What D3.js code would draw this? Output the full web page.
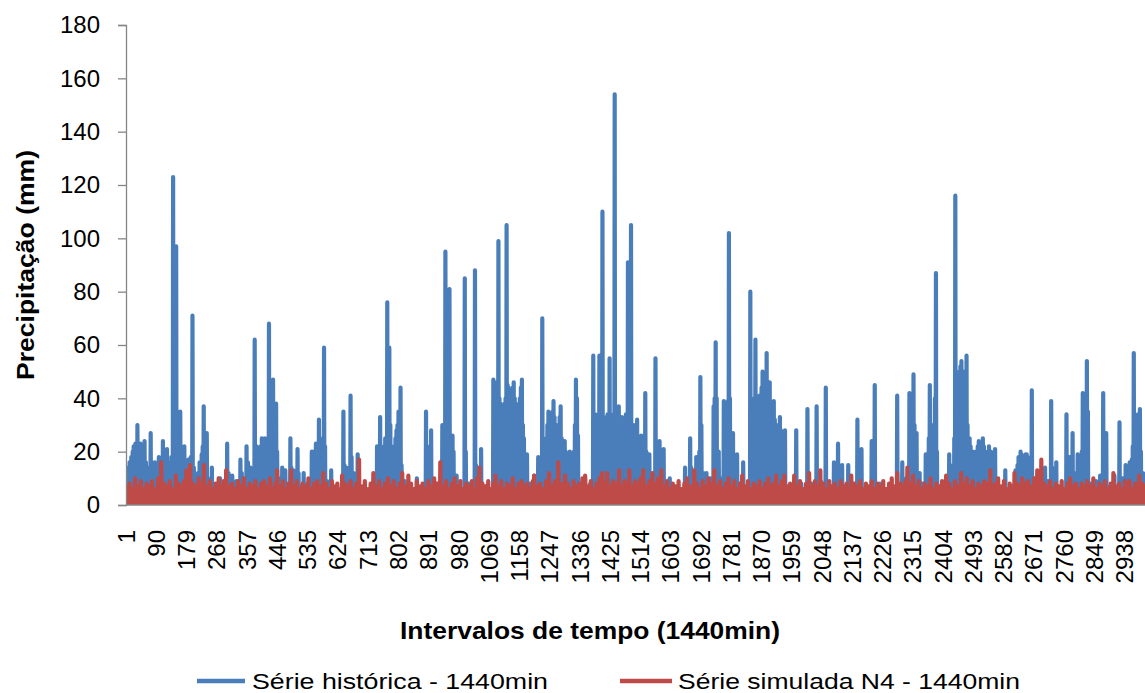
<!DOCTYPE html>
<html>
<head>
<meta charset="utf-8">
<script src="https://cdn.jsdelivr.net/npm/d3@7"></script>
<style>
  body { margin: 0; background: #ffffff; }
  svg { display: block; font-family: Arial, "Liberation Sans", sans-serif; }
</style>
</head>
<body>
<svg id="chart" width="1145" height="693"></svg>
<script>
// Number of daily (1440 min) intervals in the record
const intervalCount = 2998;

// Axis ticks
const yTicks = [0, 20, 40, 60, 80, 100, 120, 140, 160, 180];
const xTickLabels = [1, 90, 179, 268, 357, 446, 535, 624, 713, 802, 891, 980, 1069, 1158, 1247,
  1336, 1425, 1514, 1603, 1692, 1781, 1870, 1959, 2048, 2137, 2226, 2315, 2404, 2493, 2582,
  2671, 2760, 2849, 2938];

// Historical daily rainfall: [interval, mm]; intervals not listed are dry (0 mm)
const historicalRain = [
  [2,12],[7,14],[11,16],[16,18],[20,20],[23,22],[28,23],[32,22],[34,30],[38,20],[43,23],[47,20],[50,18],
  [55,24],[59,16],[62,12],[65,14],[68,12],[73,27],[77,16],[80,14],[85,16],[89,12],[92,14],[97,18],
  [101,14],[104,16],[109,24],[113,16],[116,14],[121,21],[125,16],[130,12],[134,18],[139,123],[143,30],
  [148,97],[152,25],[155,28],[160,35],[164,20],[167,18],[172,22],[176,16],[179,14],[184,17],[188,14],
  [191,18],[196,71],[200,14],[205,10],[209,8],[212,12],[217,16],[220,14],[223,19],[226,22],[229,37],
  [232,18],[238,27],[242,10],[253,14],[265,6],[277,10],[289,8],[298,23],[302,12],[313,11],[325,9],
  [337,17],[341,12],[346,8],[355,22],[359,16],[367,14],[371,10],[379,62],[382,18],[385,22],[391,20],
  [394,20],[397,22],[400,25],[403,20],[406,22],[409,25],[412,18],[415,20],[418,22],[421,68],[424,25],
  [427,25],[430,22],[433,47],[436,30],[439,28],[442,38],[445,20],[451,10],[460,14],[463,10],[469,13],
  [484,25],[487,14],[493,13],[505,21],[508,12],[514,7],[523,12],[535,8],[547,20],[550,18],[553,20],
  [559,23],[562,20],[565,22],[568,32],[571,25],[577,18],[580,20],[583,59],[586,22],[592,9],[604,13],
  [640,35],[643,15],[649,14],[661,41],[664,18],[670,12],[682,19],[697,6],[739,22],[742,15],[748,33],
  [751,20],[757,18],[760,22],[763,25],[769,76],[772,40],[775,59],[778,30],[781,22],[784,14],[787,20],
  [790,22],[793,25],[796,28],[799,30],[802,35],[805,30],[808,44],[811,15],[820,9],[856,10],[883,35],
  [886,20],[892,17],[895,22],[898,28],[913,8],[931,30],[934,28],[937,30],[940,95],[943,26],[946,28],
  [949,25],[952,81],[955,24],[958,22],[961,26],[964,20],[973,11],[997,85],[1000,20],[1009,8],[1027,88],
  [1030,15],[1036,12],[1045,21],[1060,7],[1081,47],[1084,45],[1087,46],[1090,44],[1093,44],[1096,99],
  [1099,40],[1102,38],[1105,30],[1108,35],[1111,35],[1114,38],[1117,40],[1120,105],[1123,45],[1126,44],
  [1129,40],[1132,40],[1135,42],[1138,44],[1141,46],[1144,40],[1147,38],[1150,35],[1153,30],[1156,30],
  [1159,40],[1162,44],[1165,47],[1168,30],[1171,25],[1180,19],[1189,8],[1201,11],[1213,18],[1216,14],
  [1225,70],[1228,20],[1231,18],[1234,15],[1237,25],[1240,30],[1243,35],[1246,33],[1249,30],[1252,22],
  [1255,35],[1258,39],[1261,33],[1264,30],[1267,25],[1270,30],[1273,18],[1276,33],[1279,37],[1282,25],
  [1285,14],[1288,22],[1291,24],[1294,20],[1297,18],[1300,17],[1303,18],[1306,20],[1309,18],[1312,15],
  [1315,12],[1318,20],[1321,30],[1324,47],[1327,40],[1330,26],[1339,8],[1351,10],[1366,8],[1375,56],
  [1378,30],[1381,34],[1384,20],[1387,28],[1390,33],[1393,56],[1396,30],[1399,35],[1402,110],[1405,33],
  [1408,25],[1411,30],[1414,33],[1417,34],[1420,28],[1423,55],[1426,33],[1429,30],[1432,30],[1435,34],
  [1438,154],[1441,32],[1444,35],[1447,30],[1450,37],[1453,28],[1456,31],[1459,33],[1462,30],[1465,20],
  [1468,28],[1471,34],[1474,30],[1477,91],[1480,32],[1483,30],[1486,105],[1489,28],[1492,27],[1495,30],
  [1498,20],[1501,25],[1504,32],[1507,24],[1510,18],[1513,22],[1516,26],[1519,20],[1522,15],[1525,25],
  [1528,42],[1531,20],[1534,12],[1537,18],[1540,19],[1549,10],[1558,55],[1561,18],[1564,17],[1570,24],
  [1576,12],[1582,21],[1600,10],[1645,14],[1660,25],[1663,14],[1669,9],[1672,12],[1678,18],[1684,10],
  [1687,20],[1690,48],[1693,30],[1699,12],[1708,12],[1720,10],[1729,37],[1732,40],[1735,61],[1738,40],
  [1741,14],[1744,20],[1750,10],[1759,39],[1762,25],[1765,20],[1768,30],[1771,39],[1774,102],[1777,40],
  [1780,22],[1783,20],[1786,27],[1798,19],[1807,8],[1816,16],[1828,7],[1837,80],[1840,35],[1843,38],
  [1846,38],[1849,40],[1852,62],[1855,38],[1858,36],[1861,36],[1864,41],[1867,40],[1870,44],[1873,50],
  [1876,42],[1879,42],[1882,40],[1885,57],[1888,38],[1891,36],[1894,46],[1897,35],[1900,33],[1903,33],
  [1906,39],[1909,32],[1912,30],[1915,30],[1918,30],[1921,28],[1924,33],[1927,28],[1930,25],[1933,25],
  [1936,24],[1939,28],[1951,6],[1972,28],[1987,8],[2005,36],[2017,8],[2032,37],[2044,9],[2059,44],
  [2071,7],[2083,16],[2086,12],[2095,23],[2098,12],[2107,15],[2116,7],[2125,15],[2137,6],[2152,32],
  [2155,14],[2164,21],[2179,6],[2194,24],[2203,45],[2218,8],[2236,6],[2251,7],[2269,41],[2284,16],
  [2296,10],[2305,42],[2308,30],[2311,18],[2314,40],[2317,49],[2320,30],[2323,20],[2326,27],[2335,12],
  [2344,8],[2353,19],[2359,12],[2362,25],[2365,45],[2368,30],[2371,30],[2374,14],[2377,25],[2380,40],
  [2383,87],[2386,20],[2398,7],[2410,9],[2422,19],[2425,15],[2431,12],[2437,25],[2440,116],[2443,30],
  [2446,40],[2449,45],[2452,50],[2455,52],[2458,54],[2461,50],[2464,48],[2467,50],[2470,40],[2473,56],
  [2476,30],[2479,25],[2482,25],[2485,22],[2488,15],[2491,20],[2494,19],[2497,18],[2500,20],[2503,10],
  [2506,22],[2509,24],[2512,23],[2515,22],[2518,20],[2521,25],[2524,22],[2527,20],[2530,15],[2533,18],
  [2536,20],[2539,22],[2542,18],[2545,20],[2548,12],[2551,18],[2554,17],[2557,21],[2572,6],[2587,13],
  [2602,5],[2617,13],[2623,15],[2626,18],[2629,18],[2632,20],[2635,19],[2638,18],[2641,12],[2644,18],
  [2647,19],[2650,19],[2653,18],[2659,10],[2665,43],[2677,10],[2689,12],[2704,14],[2713,9],[2722,39],
  [2725,14],[2731,10],[2737,16],[2752,6],[2767,34],[2770,16],[2776,18],[2779,14],[2785,27],[2794,12],
  [2800,19],[2803,18],[2806,17],[2809,14],[2812,20],[2815,42],[2818,30],[2821,22],[2824,40],[2827,54],
  [2830,35],[2839,8],[2854,9],[2866,11],[2875,42],[2878,20],[2884,27],[2896,7],[2908,11],[2923,31],
  [2932,10],[2941,15],[2944,12],[2950,9],[2953,16],[2959,17],[2962,22],[2965,57],[2968,30],[2974,18],
  [2977,34],[2983,36],[2986,20],[2992,12]
];

// Simulated (N4) daily rainfall: [interval, mm]; intervals not listed are dry (0 mm)
const simulatedRain = [
  [3,7],[11,8],[19,6],[27,10],[36,7],[44,9],[52,6],[61,8],[69,7],[77,9],[86,6],[95,10],[104,16],
  [112,8],[121,7],[129,9],[138,6],[147,11],[155,8],[163,7],[171,9],[178,13],[189,15],[197,8],
  [206,7],[214,10],[222,8],[230,15],[239,7],[247,9],[256,6],[264,8],[273,10],[281,7],[288,9],[295,13],
  [304,7],[313,8],[321,6],[330,9],[338,7],[347,10],[355,6],[364,8],[372,7],[381,9],[390,6],[398,8],
  [407,9],[415,7],[424,10],[432,6],[439,8],[445,13],[454,7],[462,9],[470,6],[478,8],[486,13],[495,7],
  [503,9],[512,6],[520,8],[529,7],[537,10],[546,6],[554,8],[563,9],[572,7],[581,12],[589,8],[597,6],
  [606,9],[614,7],[622,8],[630,6],[636,11],[645,8],[653,7],[661,9],[670,6],[678,8],[686,17],[695,7],
  [703,9],[712,6],[720,8],[728,12],[737,7],[745,9],[754,6],[762,8],[771,10],[779,7],[788,9],[796,6],
  [805,8],[813,12],[822,7],[831,11],[839,8],[848,6],[856,9],[865,7],[873,8],[882,6],[890,9],[899,7],
  [907,10],[916,8],[925,16],[933,7],[942,9],[950,6],[959,8],[967,10],[976,7],[984,9],[993,6],
  [1001,8],[1010,7],[1018,9],[1027,6],[1033,10],[1040,14],[1049,8],[1057,7],[1066,9],[1074,6],[1081,8],[1087,11],[1096,7],
  [1104,9],[1113,6],[1121,8],[1130,7],[1138,10],[1147,6],[1155,8],[1164,9],[1172,7],[1181,8],[1189,6],[1197,9],
  [1201,11],[1210,7],[1218,8],[1227,6],[1236,9],[1245,12],[1253,7],[1262,9],[1272,16],[1280,8],[1286,7],[1292,11],
  [1300,8],[1309,6],[1317,9],[1326,7],[1334,8],[1343,10],[1351,11],[1360,7],[1368,9],[1377,6],[1385,8],[1393,10],[1401,12],
  [1409,8],[1416,12],[1425,7],[1433,9],[1442,8],[1451,13],[1459,7],[1467,9],[1474,8],[1481,13],[1490,7],[1498,9],
  [1506,8],[1514,10],[1522,13],[1531,7],[1540,9],[1549,12],[1557,8],[1566,10],[1575,13],[1583,7],[1592,9],[1600,6],
  [1609,8],[1617,7],[1626,9],[1634,6],[1643,8],[1651,10],[1660,7],[1672,13],[1680,8],[1689,6],[1697,9],
  [1706,7],[1714,10],[1722,8],[1731,13],[1739,7],[1748,9],[1756,6],[1765,8],[1773,10],[1782,7],[1790,9],[1799,6],
  [1807,8],[1813,11],[1822,7],[1830,9],[1839,6],[1847,8],[1856,7],[1864,9],[1873,6],[1881,8],[1890,10],[1898,7],
  [1906,8],[1913,11],[1922,7],[1930,9],[1937,11],[1946,7],[1954,8],[1960,6],[1966,11],[1975,7],[1983,9],[1992,6],
  [2001,8],[2010,12],[2018,7],[2027,9],[2035,7],[2043,13],[2052,8],[2060,6],[2069,9],[2077,7],[2086,8],[2094,6],
  [2103,9],[2111,7],[2120,8],[2128,6],[2134,11],[2143,8],[2151,7],[2160,9],[2168,6],[2177,8],[2185,7],[2194,9],
  [2202,6],[2211,8],[2219,7],[2228,9],[2236,6],[2245,8],[2253,10],[2261,7],[2269,12],[2278,8],[2286,7],[2293,9],[2299,14],
  [2308,8],[2316,11],[2325,7],[2333,9],[2342,6],[2350,8],[2359,7],[2367,10],[2376,6],[2384,8],[2393,7],[2401,9],
  [2407,7],[2413,11],[2422,8],[2430,6],[2439,9],[2448,7],[2457,12],[2465,8],[2474,10],[2482,7],[2491,9],[2499,6],
  [2508,8],[2516,7],[2525,9],[2534,8],[2543,13],[2551,7],[2558,8],[2566,10],[2575,7],[2583,9],[2592,6],[2600,8],
  [2607,7],[2614,12],[2622,8],[2630,7],[2637,10],[2646,8],[2654,9],[2663,7],[2672,10],[2681,13],[2687,9],[2693,17],
  [2702,8],[2710,7],[2719,9],[2727,6],[2736,8],[2744,7],[2753,9],[2761,6],[2770,8],[2778,10],[2787,7],[2795,8],
  [2804,6],[2812,8],[2820,7],[2828,9],[2837,7],[2846,10],[2854,6],[2863,8],[2871,7],[2880,9],[2888,6],[2897,8],
  [2905,12],[2913,7],[2922,8],[2930,6],[2939,9],[2946,7],[2952,9],[2961,6],[2969,8],[2975,7],[2981,11],[2990,8],[2997,7]
];

const seriesNames = ["Série histórica - 1440min", "Série simulada N4 - 1440min"];
const seriesColors = ["#4a7ebb", "#be4b48"];

// Expand an event list into one value per interval (dry intervals = 0)
function dailySeries(events) {
  const lookup = new Map();
  events.forEach(([day, mm]) => lookup.set(day, Math.max(mm, lookup.get(day) || 0)));
  return d3.range(1, intervalCount + 1).map(day => ({ day, mm: lookup.get(day) || 0 }));
}

const plot = { left: 126, right: 1145, top: 25, bottom: 505 };
const svg = d3.select("#chart");

const x = d3.scaleLinear().domain([1, intervalCount]).range([plot.left + 0.2, plot.right]);
const y = d3.scaleLinear().domain([0, 180]).range([plot.bottom, plot.top]);

svg.append("defs").append("clipPath").attr("id", "plot-clip")
  .append("rect")
  .attr("x", plot.left).attr("y", 0)
  .attr("width", plot.right - plot.left).attr("height", plot.bottom);

const line = d3.line().x(d => x(d.day)).y(d => y(d.mm));

const seriesGroup = svg.append("g").attr("clip-path", "url(#plot-clip)");
[historicalRain, simulatedRain].forEach((events, i) => {
  seriesGroup.append("path")
    .datum(dailySeries(events))
    .attr("d", line)
    .attr("fill", "none")
    .attr("stroke", seriesColors[i])
    .attr("stroke-width", 4.2)
    .attr("stroke-linejoin", "round")
    .attr("stroke-linecap", "round");
});

// Y axis
const axisColor = "#868686";
const yAxis = svg.append("g").attr("transform", `translate(${plot.left},0)`)
  .call(d3.axisLeft(y).tickValues(yTicks).tickSize(8).tickPadding(18).tickFormat(d3.format("d")));
yAxis.select(".domain").attr("stroke", axisColor).attr("stroke-width", 1.3);
yAxis.selectAll(".tick line").attr("stroke", axisColor).attr("stroke-width", 1.3);
yAxis.selectAll(".tick text")
  .attr("fill", "#000").attr("font-size", 24)
  .attr("font-family", "Arial, 'Liberation Sans', sans-serif");

// X axis line
svg.append("line")
  .attr("x1", plot.left).attr("x2", plot.right)
  .attr("y1", plot.bottom).attr("y2", plot.bottom)
  .attr("stroke", axisColor).attr("stroke-width", 1.3);

// X tick labels, rotated
svg.append("g").selectAll("text")
  .data(xTickLabels)
  .join("text")
  .attr("transform", d => `translate(${x(d)},530) rotate(-90)`)
  .attr("text-anchor", "end")
  .attr("dominant-baseline", "central")
  .attr("font-size", 24)
  .attr("fill", "#000")
  .text(d => d);

// Axis titles
svg.append("text")
  .attr("x", 590).attr("y", 630)
  .attr("text-anchor", "middle").attr("dominant-baseline", "central")
  .attr("font-size", 24).attr("font-weight", "bold")
  .attr("textLength", 380).attr("lengthAdjust", "spacingAndGlyphs")
  .text("Intervalos de tempo (1440min)");

svg.append("text")
  .attr("transform", `translate(25,${(plot.top + plot.bottom) / 2}) rotate(-90)`)
  .attr("text-anchor", "middle").attr("dominant-baseline", "central")
  .attr("font-size", 24).attr("font-weight", "bold")
  .attr("textLength", 230).attr("lengthAdjust", "spacingAndGlyphs")
  .text("Precipitação (mm)");

// Legend
const legendItems = [
  { x1: 197, x2: 245, tx: 252, width: 296 },
  { x1: 620, x2: 672, tx: 678, width: 342 }
];
const legend = svg.append("g");
legendItems.forEach((item, i) => {
  legend.append("line")
    .attr("x1", item.x1).attr("x2", item.x2).attr("y1", 681).attr("y2", 681)
    .attr("stroke", seriesColors[i]).attr("stroke-width", 4.5);
  legend.append("text")
    .attr("x", item.tx).attr("y", 681)
    .attr("dominant-baseline", "central")
    .attr("font-size", 22).attr("fill", "#000")
    .attr("textLength", item.width).attr("lengthAdjust", "spacingAndGlyphs")
    .text(seriesNames[i]);
});
</script>
</body>
</html>
